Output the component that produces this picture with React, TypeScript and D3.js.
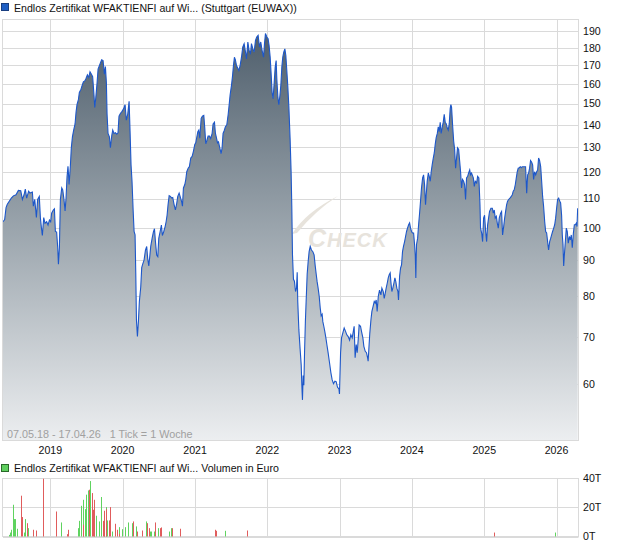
import React from "react";
import * as d3 from "d3";

// ---- Data -------------------------------------------------------------
// Weekly closing prices: [week index since 07.05.2018, price]
const weeklyCloses: [number, number][] = [
  [0,102],[1.2,102.7],[2.2,106.8],[3.1,108],[4.6,109.1],[6,110.2],[7.5,111],[9.4,111.4],[11.1,113],[12.8,112.9],[14,109.7],[15.2,111.4],[16.1,113.5],[17.1,110.2],[18.5,112.7],[19.5,112],[21.2,112.4],[21.9,107.3],[22.9,109.7],[24.1,103.4],[25,109.7],[26.2,110.8],[27,103.2],[27.9,99.3],[28.4,97.5],[29.4,103.4],[30.3,101.5],[31.5,102],[32.5,100.9],[33.5,102.6],[34.4,102],[35.1,104.9],[36.3,106],[37.1,106.4],[37.8,98.8],[38.7,98.6],[39.5,93.7],[40,88.8],[40.7,93.7],[41.4,109.7],[42.4,113.9],[43.1,113.2],[44,109.7],[44.8,105.7],[45.5,110.2],[46.2,118.1],[46.9,122.3],[47.7,115.2],[48.6,122.3],[49.3,129.9],[50.1,134.6],[51,137.6],[52,140.4],[52.7,145.8],[53.4,149.5],[54.4,152],[55.1,155.6],[56.3,157.3],[57,159],[58,161.1],[59,161.6],[59.9,162.9],[60.9,164.8],[61.9,163.4],[62.8,166.5],[63.8,165.2],[64.7,163.8],[65.7,153.8],[66.2,148.2],[66.9,152.5],[67.9,160.7],[68.6,167.9],[69.6,169.9],[70.5,171.8],[71.2,173.1],[72.2,172.7],[73.2,165.2],[73.9,169.3],[74.6,160.7],[75.1,144.9],[75.8,136.1],[76.8,134.6],[77.5,129.9],[78.5,135.3],[79.2,137.6],[80.1,136.1],[81.1,136.4],[82.1,135.8],[83,136.4],
  [83.7,144],[84.7,145.3],[85.9,146.3],[87.1,147.6],[88.1,149.5],[89,142.1],[90,144.9],[91,151.2],[91.7,136.9],[92.4,122.8],[93.1,116.4],[93.9,106],[94.6,98.8],[95.3,97.7],[95.8,86.5],[96.3,74],[97,70.1],[97.7,73.6],[98.4,78.6],[99.4,82.4],[100.1,87.8],[100.8,88.8],[101.8,90],[102.8,93],[103.7,94.1],[104.4,90.5],[105.2,88.3],[105.9,91],[106.6,94.1],[107.6,96.6],[108.5,98.6],[109.3,99.7],[110,95.6],[110.9,91.5],[111.7,91],[112.4,96.6],[113.4,98.8],[114.3,100.9],[115,97.5],[116,98.8],[117,100.4],[117.7,102],[118.4,104.2],[119.1,107.8],[119.9,111.1],[120.8,110.8],[121.8,110.2],[122.5,110.4],[123.5,107.8],[124.4,106],[125.4,108.4],[126.1,110.8],[127.1,112],[127.8,110.8],[128.8,109.1],[129.5,107.3],[130.2,113.9],[131.2,115.2],[131.9,117.1],[132.6,120.1],[133.6,121.5],[134.5,122.1],[135.5,125.6],[136.5,126.3],[137.4,128.4],[138.4,131.3],[139.1,132],[139.8,134.3],[140.6,136.9],[141.3,137.6],[142,134],[143,143],[143.9,144],[144.9,144.4],[145.6,138.5],[146.3,131.6],[147,132.8],[148,134.9],[149,134.9],[149.9,133.9],[150.9,136.1],[151.6,140.4],[152.6,141.2],[153.3,136.1],[154,134.3],[154.8,132],[155.5,132.4],[156.4,129.9],[157.4,127.4],[158.1,129.9],[158.8,136.1],[159.6,137.3],[160.5,139.1],[161.5,140],[162.5,144.9],[163.2,149.5],[163.9,154.4],[164.9,159.4],[165.6,164],[166.3,169.9],[167,174.6],[167.7,173.1],[168.5,169.9],
  [170.2,167.2],[171.1,169.9],[172.1,174.6],[173,180.5],[174,182.5],[175,177.5],[175.7,173.6],[176.7,183.5],[177.6,178.4],[178.6,176.9],[179.3,182.5],[180.3,179.4],[181.2,177.5],[182.2,184.4],[183.1,186.5],[184.1,187.5],[185.1,180.5],[186,183.5],[187,178.4],[188,174.6],[188.7,182.5],[189.4,188.6],[190.4,186.5],[191.3,185.5],[192,181.5],[192.8,174.6],[193.5,165.2],[194.2,155.6],[194.9,152.5],[195.7,160.7],[196.4,168.9],[197.1,172.7],[197.6,162.6],[198.3,153.8],[199,149.5],[199.8,153.8],[200.5,159.4],[201.2,168.9],[201.9,174.6],[202.6,177.5],[203.4,179.4],[204.1,175.6],[204.8,167.2],[205.5,159],[206.3,148.2],[207.2,133.4],[207.9,120.1],[208.4,107.3],[208.9,91.5],[209.6,84.5],[210.3,84],[211.1,81.2],[211.8,82.1],[212.3,86.5],[212.7,78.6],[213.5,71.7],[214.4,67.3],[215.2,63.8],[215.6,60.1],[216.1,57],[216.6,61.7],[217.1,59.8],[217.6,66.5],[218.2,73.6],[218.8,79.2],[219.5,86],[220.2,89.5],[220.9,92.5],[221.7,94.1],[222.6,93],[223.6,92.5],[224.5,91.5],[225.3,88.3],[226,86],[226.7,83.8],[227.4,82.1],[228.2,79.9],[228.9,77],[229.6,75],[230.3,75.4],[230.8,73.6],[231.5,72.5],[232.2,71.3],[233,69.8],[233.7,68.3],[234.6,66.5],[235.6,64.4],[236.6,62.3],[237.5,60.9],[238.5,60.1],[239.5,60.6],[240.4,60.5],[241.4,59.4],[242.4,59.1],[242.8,58.1],[243.6,66.5],[244.3,69.8],[245.2,70.9],[246.2,72.1],[247.2,71.3],[248.1,70.5],[249.1,70.1],[250.1,69.3],[251,70.5],[252,69.8],
  [253.4,72.5],[254.1,65.4],[254.9,68.3],[255.6,66.5],[256.3,69.3],[257,72.8],[258,72.5],[258.7,71.3],[259.7,69.8],[260.4,67.9],[261.4,66.8],[262.3,66.5],[263.1,65.4],[263.5,64.7],[264,67.3],[264.7,70.9],[265.5,74],[266.2,76.1],[266.9,77.1],[267.9,78.6],[268.6,78.2],[269.3,79],[270,76.1],[270.8,79.9],[271.7,81.6],[272.7,80.3],[273.4,82.1],[274.4,81.2],[275.1,79.4],[275.8,80.7],[276.5,82.1],[277.3,83.5],[278,84.9],[278.7,85.8],[279.4,86.3],[279.9,83.8],[280.6,81.2],[281.3,82.1],[282.1,83.5],[282.8,84.9],[283.5,83.8],[284.2,82.1],[285,81.2],[285.4,79],[286.2,85.4],[286.9,87.7],[287.6,88.6],[288.3,92.5],[289,94.1],[289.8,95.6],[290.5,97.2],[291.2,98.8],[291.9,99.9],[292.7,101],[293.4,101.6],[294.1,99.9],[294.8,98.8],[295.5,98.3],[296.3,98.3],[297,94.7],[297.5,91.5],[297.9,84.9],[298.4,94.7],[299.2,96.6],[299.9,101],[300.6,104.8],[301.3,109.1],[302,113.9],[302.8,117.7],[303.5,118.9],[304.2,115.2],[304.9,107.8],[305.4,111.4],[306.1,116.4],[306.9,119.6],[307.6,118.3],[308.3,116.4],[309,120.1],[309.7,122.8],[310.5,125.6],[311.2,127.7],[311.9,131.3],[312.6,134.3],[313.4,136.1],[314.1,139.1],[314.8,136.9],[315.5,141.2],[316.2,136.1],[317,139.1],[317.7,141.2],[318.4,144.9],[319.1,141.2],[319.9,140.4],[320.6,138.5],[321.3,137.6],[322,140.4],[322.7,147.6],[323.2,149.5],[323.7,148.2],[324.4,140.4],[325.2,132.8],[325.9,129.2],[326.6,121.5],[327.3,125.6],[328,129.9],[328.8,129.2],[329.5,124.6],[330.2,120.1],[330.9,113.9],[331.6,117.1],[332.4,116.4],[333.1,115.2],[333.8,109.7],[334.5,117.7],[335.3,118.3],[336,119.6],[336.8,120.8],[337.4,118.9],[338.1,119.6],
  [339.4,117.7],[340.1,114.5],[340.8,116.4],[341.8,115.8],[342.5,118.3],[343.4,117.7],[344.2,107.8],[344.6,99.9],[345.4,98.3],[346.1,95.6],[346.8,103.2],[347.5,104.2],[348.3,98.8],[349,95.6],[349.7,100.9],[350.4,103.2],[351.1,105.5],[352.1,106.6],[353.1,106.6],[353.8,104.9],[354.5,106],[355.2,103.2],[356,103.8],[356.7,101.5],[357.4,99.9],[358.1,103.2],[359.1,104.9],[359.8,105.5],[360.5,97.7],[361.3,100.4],[362,103.2],[362.7,105.5],[363.4,107.8],[364.1,109.1],[364.9,109.7],[365.8,110.2],[366.8,110.8],[367.5,111.4],[368.2,112.7],[368.9,113.2],[369.7,115.2],[370.4,117.7],[371.1,120.1],[371.8,121.5],[372.6,121.7],[373.3,122.1],[374,121.7],[374.7,122.1],[375.5,122.1],[376.2,122.1],[377.1,122.1],[377.9,112],[378.6,118.9],[379.3,119.6],[380,121.5],[380.7,124.6],[381.5,123.9],[382.2,122.8],[382.9,117.1],[383.6,120.1],[384.4,118.9],[385.1,120.1],[385.8,120.8],[386.5,125.6],[387.2,124.6],[388,122.1],[388.7,116.4],[389.4,110.8],[390.1,107.3],[390.9,102],[391.6,98.8],[392.3,98.3],[393,95.6],[393.7,93],[394.5,95.6],[395.2,96.6],[395.9,97.7],[396.6,98.8],[397.4,99.9],[398.1,101],[398.8,103.2],[399.5,106.6],[400.2,109.7],[401,110.2],[401.7,109.1],[402.4,108.5],[403.1,104.2],[403.6,97.7],[404.1,94.7],[404.6,88.3],[405.1,91.5],[405.8,95.6],[406.5,99.9],[407.2,98.8],[407.9,95.1],[408.7,97.2],[409.4,96.1],[410.1,97.7],[410.8,93.7],[411.6,98.3],[412.3,101],[413,101],[413.7,101.5],[414.2,100.4],[414.7,106.6],
];

// Volume in thousand euro (T): [week index, volume]
const volumeUp: [number, number][] = [
  [4,1.1],[5,2.7],[6,4.6],[7,21.7],[8,11.9],[9,11.9],[10,5.3],[15,2.7],[16,11.9],[18,5.7],[42,9.6],[54,5.7],[55,10.7],[56,21],[58,25.1],[59,18.7],[60,28.6],[61,31.5],[63,37.9],[66,24],[67,14.2],[69,10.3],[71,27],[73,17.1],[74,20.1],[75,11],[79,3.4],[84,6.4],[86,5],[88,6.4],[90,9.6],[93,9.1],[96,6.9],[103,10.3],[106,3.4],[107,3.4],[109,3.4],[112,5.7],[120,3.4],[121,5.7],[160,3.9],[398,2.7],
];
const volumeDown: [number, number][] = [
  [13,27.9],[14,13.3],[17,9.1],[22,4.6],[24,4.1],[29,39.5],[38,17.1],[46,1.6],[47,4.6],[58,8],[62,32],[64,29.7],[65,18.3],[65.5,25.1],[72,10.7],[73,17.6],[74.5,18.7],[76.6,11],[77.2,20.1],[81,8.7],[82,4.6],[83.5,1.8],[94,10.3],[97,3.4],[100,4.1],[104,9.1],[105,5.7],[110,9.6],[113,5.7],[114.3,6.2],[122,5.7],[128,5.3],[153,4.6],[154,3.9],[176,4.1],[354.5,2.7],
];

const priceTicks = [60, 70, 80, 90, 100, 110, 120, 130, 140, 150, 160, 170, 180, 190];
const yearTicks = [2019, 2020, 2021, 2022, 2023, 2024, 2025, 2026];
const volumeTicks = [0, 20, 40];

const titleText = "Endlos Zertifikat WFAKTIENFI auf Wi... (Stuttgart (EUWAX))";
const volumeTitle = "Endlos Zertifikat WFAKTIENFI auf Wi... Volumen in Euro";
const rangeText = "07.05.18 - 17.04.26   1 Tick = 1 Woche";
const startDate = new Date(2018, 4, 7);
const endDate = new Date(2026, 3, 17);

const FONT = "'Liberation Sans', Arial, sans-serif";

export default function App() {
  const W = 620, H = 546;
  const left = 3, right = 578.5, top = 19, bottom = 440;
  const vTop = 478, vBottom = 536.5;

  const weekToDate = (w: number) => new Date(startDate.getTime() + w * 7 * 86400000);

  const x = d3.scaleTime().domain([startDate, endDate]).range([left, 577.5]);
  const y = d3.scaleLog().domain([50, 197.8]).range([bottom, top]);
  const yv = d3.scaleLinear().domain([0, 40]).range([vBottom, vTop]);

  const area = d3
    .area<[number, number]>()
    .x((d) => x(weekToDate(d[0])))
    .y0(bottom)
    .y1((d) => y(d[1]));
  const line = d3
    .line<[number, number]>()
    .x((d) => x(weekToDate(d[0])))
    .y((d) => y(d[1]));

  const grid = "#dadada";
  const snap = (v: number) => Math.round(v) + 0.5;

  return (
    <div style={{ position: "absolute", left: 0, top: 0 }}>
      <svg width={W} height={H} style={{ display: "block", background: "#fff" }} fontFamily={FONT}>
        <defs>
          <linearGradient id="areaGrad" gradientUnits="userSpaceOnUse" x1="0" y1={top} x2="0" y2={bottom}>
            <stop offset="0%" stopColor="#4a5a68" />
            <stop offset="50%" stopColor="#9ba5ad" />
            <stop offset="100%" stopColor="#eceef0" />
          </linearGradient>
        </defs>

        {/* Title */}
        <rect x={1.5} y={3.5} width={7} height={7} fill="#1f5fc4" stroke="#1a3f80" strokeWidth={1} />
        <text x={14} y={11.5} fontSize={10.6} fill="#111">{titleText}</text>

        {/* Main grid */}
        {priceTicks.map((t) => (
          <line key={"h" + t} x1={left} x2={right} y1={snap(y(t))} y2={snap(y(t))} stroke={grid} />
        ))}
        {yearTicks.map((yr) => (
          <line key={"v" + yr} x1={snap(x(new Date(yr, 0, 1)))} x2={snap(x(new Date(yr, 0, 1)))} y1={top} y2={bottom} stroke={grid} />
        ))}

        {/* Watermark */}
        <g fill="#e7e3dc">
          <path d="M292,234 Q306,212 338,196 Q316,210 297,233 Z" />
          <text x={308} y={247} fontSize={25} fontStyle="italic" fontWeight="bold" letterSpacing={1}>
            C<tspan fontSize={20}>HECK</tspan>
          </text>
        </g>

        {/* Area + line */}
        <path d={area(weeklyCloses) || ""} fill="url(#areaGrad)" />
        <path d={line(weeklyCloses) || ""} fill="none" stroke="#1d57c9" strokeWidth={1.1} strokeLinejoin="miter" />

        {/* Frame */}
        <rect x={2.5} y={top + 0.5} width={right - 2.5} height={bottom - top} fill="none" stroke={grid} />

        {/* Range text */}
        <text x={7} y={437.5} fontSize={10.8} fill="#a0a0a0" style={{ whiteSpace: "pre" }}>{rangeText}</text>

        {/* Y labels */}
        {priceTicks.map((t) => (
          <text key={"yl" + t} x={583} y={y(t)} dy="0.35em" fontSize={10.6} fill="#111">{t}</text>
        ))}
        {/* X labels */}
        {yearTicks.map((yr) => (
          <text key={"xl" + yr} x={x(new Date(yr, 0, 1))} y={454} textAnchor="middle" fontSize={10.6} fill="#111">{yr}</text>
        ))}

        {/* Volume legend */}
        <rect x={1.5} y={464.5} width={7} height={7} fill="#5fcf5f" stroke="#2a6a2a" strokeWidth={1} />
        <text x={14} y={472} fontSize={10.6} fill="#111">{volumeTitle}</text>

        {/* Volume grid */}
        {volumeTicks.map((t) => (
          <line key={"vh" + t} x1={left} x2={right} y1={snap(yv(t))} y2={snap(yv(t))} stroke={grid} />
        ))}
        {yearTicks.map((yr) => (
          <line key={"vv" + yr} x1={snap(x(new Date(yr, 0, 1)))} x2={snap(x(new Date(yr, 0, 1)))} y1={vTop} y2={vBottom} stroke={grid} />
        ))}
        <rect x={2.5} y={vTop + 0.5} width={right - 2.5} height={vBottom - vTop - 0.5} fill="none" stroke={grid} />

        {/* Volume bars */}
        {volumeUp.map((d, i) => (
          <rect key={"vu" + i} x={Math.round(x(weekToDate(d[0])))} y={yv(d[1])} width={1} height={yv(0) - yv(d[1])} fill="#5fd35f" />
        ))}
        {volumeDown.map((d, i) => (
          <rect key={"vd" + i} x={Math.round(x(weekToDate(d[0])))} y={yv(d[1])} width={1} height={yv(0) - yv(d[1])} fill="#e05c5c" />
        ))}

        {volumeTicks.map((t) => (
          <text key={"vl" + t} x={583} y={yv(t)} dy="0.35em" fontSize={10.6} fill="#111">{t + "T"}</text>
        ))}
      </svg>
    </div>
  );
}
